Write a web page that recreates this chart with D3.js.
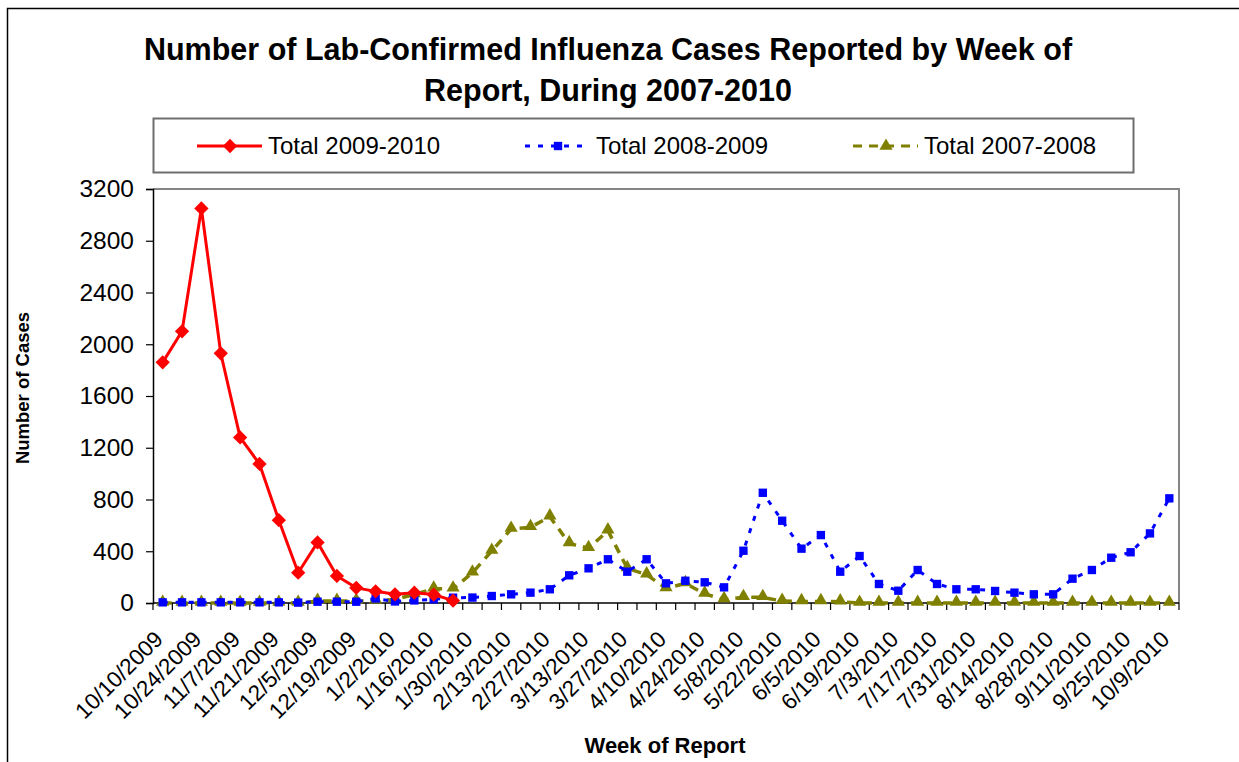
<!DOCTYPE html>
<html>
<head>
<meta charset="utf-8">
<script src="https://d3js.org/d3.v7.min.js"></script>
<style>
  body { margin: 0; background: #fff; }
  text { font-family: Arial, "Liberation Sans", sans-serif; fill: #000; }
</style>
</head>
<body>
<script>
// week of report (one per week)
var weeks = ["10/10/2009","10/17/2009","10/24/2009","10/31/2009","11/7/2009","11/14/2009","11/21/2009","11/28/2009",
  "12/5/2009","12/12/2009","12/19/2009","12/26/2009","1/2/2010","1/9/2010","1/16/2010","1/23/2010","1/30/2010",
  "2/6/2010","2/13/2010","2/20/2010","2/27/2010","3/6/2010","3/13/2010","3/20/2010","3/27/2010","4/3/2010",
  "4/10/2010","4/17/2010","4/24/2010","5/1/2010","5/8/2010","5/15/2010","5/22/2010","5/29/2010","6/5/2010",
  "6/12/2010","6/19/2010","6/26/2010","7/3/2010","7/10/2010","7/17/2010","7/24/2010","7/31/2010","8/7/2010",
  "8/14/2010","8/21/2010","8/28/2010","9/4/2010","9/11/2010","9/18/2010","9/25/2010","10/2/2010","10/9/2010"];

// only every other week is labelled
var tickLabels = ["10/10/2009","10/24/2009","11/7/2009","11/21/2009","12/5/2009","12/19/2009","1/2/2010","1/16/2010",
  "1/30/2010","2/13/2010","2/27/2010","3/13/2010","3/27/2010","4/10/2010","4/24/2010","5/8/2010","5/22/2010",
  "6/5/2010","6/19/2010","7/3/2010","7/17/2010","7/31/2010","8/14/2010","8/28/2010","9/11/2010","9/25/2010","10/9/2010"];

var yTicks = [0, 400, 800, 1200, 1600, 2000, 2400, 2800, 3200];

var total0910 = [1860, 2100, 3050, 1930, 1280, 1075, 640, 234, 468, 209, 117, 90, 67, 80, 65, 18];

var total0809 = [5, 5, 5, 5, 5, 5, 5, 3, 10, 10, 10, 35, 12, 20, 28, 41, 42, 54, 67, 80, 106, 214, 268, 338,
  242, 338, 152, 172, 160, 121, 404, 852, 636, 420, 525, 242, 363, 147, 95, 255, 147, 106, 106, 93, 80, 67,
  67, 188, 255, 350, 392, 538, 809];

var total0708 = [0, 0, 0, 0, 0, 0, 0, 0, 15, 15, 15, 18, 28, 67, 110, 110, 234, 402, 572, 585, 667, 461, 423,
  559, 268, 219, 113, 152, 70, 28, 44, 44, 15, 12, 12, 10, 0, 0, 0, 0, 0, 0, 0, 0, 0, 0, 0, 0, 0, 0, 0, 0, 0];

var seriesNames = ["Total 2009-2010", "Total 2008-2009", "Total 2007-2008"];

var width = 1239, height = 762;
var plot = {left: 153, right: 1179, top: 189, bottom: 603};

var svg = d3.select("body").append("svg")
    .attr("width", width)
    .attr("height", height);

// outer chart border (runs off the right and bottom edge)
svg.append("rect")
    .attr("x", 7.5).attr("y", 8.5)
    .attr("width", 1260).attr("height", 800)
    .attr("fill", "#fff")
    .attr("stroke", "#000")
    .attr("stroke-width", 1.5);

var x = d3.scaleBand()
    .domain(d3.range(weeks.length))
    .range([plot.left, plot.right]);

var y = d3.scaleLinear()
    .domain([0, 3200])
    .range([plot.bottom, plot.top]);

function cx(i) { return x(i) + x.bandwidth() / 2; }

// plot area border top / right in grey
svg.append("path")
    .attr("d", "M" + plot.left + "," + plot.top + "H" + plot.right + "V" + plot.bottom)
    .attr("fill", "none")
    .attr("stroke", "#858585")
    .attr("stroke-width", 2);

// title
var title = svg.append("text")
    .attr("text-anchor", "middle")
    .style("font-weight", "bold")
    .style("font-size", "30.5px");
title.append("tspan").attr("x", 608).attr("y", 60)
    .text("Number of Lab-Confirmed Influenza Cases Reported by Week of");
title.append("tspan").attr("x", 608).attr("y", 101)
    .text("Report, During 2007-2010");

// y axis
var yAxis = d3.axisLeft(y)
    .tickValues(yTicks)
    .tickSize(7)
    .tickPadding(12)
    .tickFormat(d3.format("d"));

var gy = svg.append("g")
    .attr("transform", "translate(" + plot.left + ",0)")
    .call(yAxis);
gy.select(".domain").attr("stroke", "#000").attr("stroke-width", 1.5);
gy.selectAll(".tick line").attr("stroke", "#000").attr("stroke-width", 1.2);
gy.selectAll(".tick text")
    .style("font-size", "24.5px")
    .style("font-family", "Arial, 'Liberation Sans', sans-serif");

// x axis: ticks on the week boundaries
var bounds = d3.range(weeks.length + 1).map(function (i) {
    return i < weeks.length ? x(i) : plot.right;
});
var gx = svg.append("g");
gx.append("line")
    .attr("x1", plot.left).attr("x2", plot.right)
    .attr("y1", plot.bottom).attr("y2", plot.bottom)
    .attr("stroke", "#000").attr("stroke-width", 1.5);
gx.selectAll(".xt")
    .data(bounds)
    .enter().append("line")
    .attr("class", "xt")
    .attr("x1", function (d) { return d; })
    .attr("x2", function (d) { return d; })
    .attr("y1", plot.bottom)
    .attr("y2", plot.bottom + 7)
    .attr("stroke", "#000")
    .attr("stroke-width", 1.2);

gx.selectAll(".xl")
    .data(tickLabels)
    .enter().append("text")
    .attr("class", "xl")
    .attr("text-anchor", "end")
    .attr("dy", "0.35em")
    .style("font-size", "22.5px")
    .attr("transform", function (d) {
        var px = cx(weeks.indexOf(d)) - 4;
        var py = plot.bottom + 32;
        return "translate(" + px + "," + py + ") rotate(-45)";
    })
    .text(function (d) { return d; });

// axis titles
svg.append("text")
    .attr("x", 665).attr("y", 753)
    .attr("text-anchor", "middle")
    .style("font-weight", "bold")
    .style("font-size", "22px")
    .text("Week of Report");

svg.append("text")
    .attr("transform", "translate(29,388) rotate(-90)")
    .attr("text-anchor", "middle")
    .style("font-weight", "bold")
    .style("font-size", "18.5px")
    .text("Number of Cases");

// series
var line = d3.line()
    .x(function (d, i) { return cx(i); })
    .y(function (d) { return y(d); });

var diamond = d3.symbol().type(d3.symbolDiamond2).size(130);
var square = d3.symbol().type(d3.symbolSquare).size(70);
var triangle = d3.symbol().type(d3.symbolTriangle).size(75);

// 2007-2008 (olive, dashed, triangles)
svg.append("path")
    .datum(total0708)
    .attr("d", line)
    .attr("fill", "none")
    .attr("stroke", "#808000")
    .attr("stroke-width", 3.5)
    .attr("stroke-dasharray", "9 7");
svg.selectAll(".tri")
    .data(total0708)
    .enter().append("path")
    .attr("class", "tri")
    .attr("d", triangle)
    .attr("fill", "#808000")
    .attr("transform", function (d, i) { return "translate(" + cx(i) + "," + (y(d) - 1) + ")"; });

// 2008-2009 (blue, dotted, squares)
svg.append("path")
    .datum(total0809)
    .attr("d", line)
    .attr("fill", "none")
    .attr("stroke", "#0000ff")
    .attr("stroke-width", 3)
    .attr("stroke-dasharray", "5 8");
svg.selectAll(".sq")
    .data(total0809)
    .enter().append("path")
    .attr("class", "sq")
    .attr("d", square)
    .attr("fill", "#0000ff")
    .attr("transform", function (d, i) { return "translate(" + cx(i) + "," + y(d) + ")"; });

// 2009-2010 (red, solid, diamonds)
svg.append("path")
    .datum(total0910)
    .attr("d", line)
    .attr("fill", "none")
    .attr("stroke", "#ff0000")
    .attr("stroke-width", 3);
svg.selectAll(".dia")
    .data(total0910)
    .enter().append("path")
    .attr("class", "dia")
    .attr("d", diamond)
    .attr("fill", "#ff0000")
    .attr("transform", function (d, i) { return "translate(" + cx(i) + "," + y(d) + ")"; });

// legend
var legend = svg.append("g");
legend.append("rect")
    .attr("x", 153.5).attr("y", 118.5)
    .attr("width", 980).attr("height", 54)
    .attr("fill", "#fff")
    .attr("stroke", "#6e6e6e")
    .attr("stroke-width", 2);

var legendItems = [
    {name: seriesNames[0], x: 197, color: "#ff0000", dash: null, sym: diamond},
    {name: seriesNames[1], x: 525, color: "#0000ff", dash: "5 8", sym: square},
    {name: seriesNames[2], x: 853, color: "#808000", dash: "9 7", sym: triangle}
];
var li = legend.selectAll(".li")
    .data(legendItems)
    .enter().append("g")
    .attr("class", "li")
    .attr("transform", function (d) { return "translate(" + d.x + ",146)"; });
li.append("line")
    .attr("x1", 0).attr("x2", 65)
    .attr("stroke", function (d) { return d.color; })
    .attr("stroke-width", 3)
    .attr("stroke-dasharray", function (d) { return d.dash; });
li.append("path")
    .attr("d", function (d) { return d.sym(); })
    .attr("transform", "translate(33,0)")
    .attr("fill", function (d) { return d.color; });
li.append("text")
    .attr("x", 71)
    .attr("dy", "0.35em")
    .style("font-size", "24px")
    .text(function (d) { return d.name; });
</script>
</body>
</html>
